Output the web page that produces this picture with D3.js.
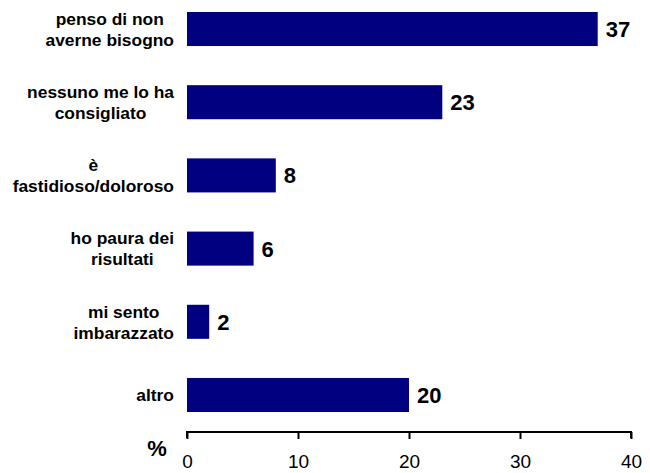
<!DOCTYPE html>
<meta charset="utf-8">
<script src="https://d3js.org/d3.v7.min.js"></script>
<style>
body { margin: 0; background: #fff; }
text { font-family: "Liberation Sans", Arial, sans-serif; }
</style>
<div id="chart"></div>
<script>
// data
var categories = [
  ["penso di non", "averne bisogno"],
  ["nessuno me lo ha", "consigliato"],
  ["è", "fastidioso/doloroso"],
  ["ho paura dei", "risultati"],
  ["mi sento", "imbarazzato"],
  ["altro"]
];
var values = [37, 23, 8, 6, 2, 20];
var ticks = [0, 10, 20, 30, 40];

var width = 650, height = 473;
var margin = {top: 12, left: 187, right: 19, bottom: 61};

var svg = d3.select("#chart").append("svg")
  .attr("width", width)
  .attr("height", height);

var x = d3.scaleLinear()
  .domain([0, 40])
  .range([margin.left, width - margin.right]);

var y = d3.scaleBand()
  .domain(d3.range(categories.length))
  .range([margin.top - 19.6, 431.6])
  .paddingInner(0.535)
  .paddingOuter(0.2675);

// bars
svg.selectAll("rect.bar")
  .data(values)
  .enter().append("rect")
    .attr("class", "bar")
    .attr("x", x(0))
    .attr("y", function(d, i) { return y(i); })
    .attr("width", function(d) { return x(d) - x(0); })
    .attr("height", y.bandwidth())
    .attr("fill", "#000080");

// value labels
svg.selectAll("text.val")
  .data(values)
  .enter().append("text")
    .attr("class", "val")
    .attr("x", function(d) { return x(d) + 8; })
    .attr("y", function(d, i) { return y(i) + y.bandwidth() / 2; })
    .attr("dy", "0.36em")
    .style("font-size", "22px")
    .style("font-weight", "bold")
    .text(function(d) { return d; });

// category labels, lines centred, block right-aligned
var lab = svg.selectAll("g.lab")
  .data(categories)
  .enter().append("g")
    .attr("class", "lab");

lab.each(function(lines, i) {
  var g = d3.select(this);
  var cy = y(i) + y.bandwidth() / 2;
  var lh = 21;
  var t = g.selectAll("text").data(lines).enter().append("text")
    .attr("text-anchor", "middle")
    .style("font-size", "17.4px")
    .style("font-weight", "bold")
    .attr("y", function(d, j) { return cy + (j - (lines.length - 1) / 2) * lh; })
    .attr("dy", "0.36em")
    .text(function(d) { return d; });
  var w = 0;
  t.each(function() { w = Math.max(w, this.getComputedTextLength()); });
  t.attr("x", 174 - w / 2);
});

// x axis
var ax = svg.append("g")
  .attr("transform", "translate(0,432)")
  .call(d3.axisBottom(x).tickValues(ticks).tickSize(7).tickPadding(16));
ax.select(".domain").attr("stroke-width", 2).attr("d", "M" + x(0) + ",6V0H" + x(40) + "V6");
ax.selectAll(".tick line").attr("stroke-width", 2);
ax.selectAll(".tick text")
  .style("font-size", "19px")
  .style("font-family", "Liberation Sans, Arial, sans-serif");

svg.append("text")
  .attr("x", 157)
  .attr("y", 456)
  .attr("text-anchor", "middle")
  .style("font-size", "22px")
  .style("font-weight", "bold")
  .text("%");
</script>
